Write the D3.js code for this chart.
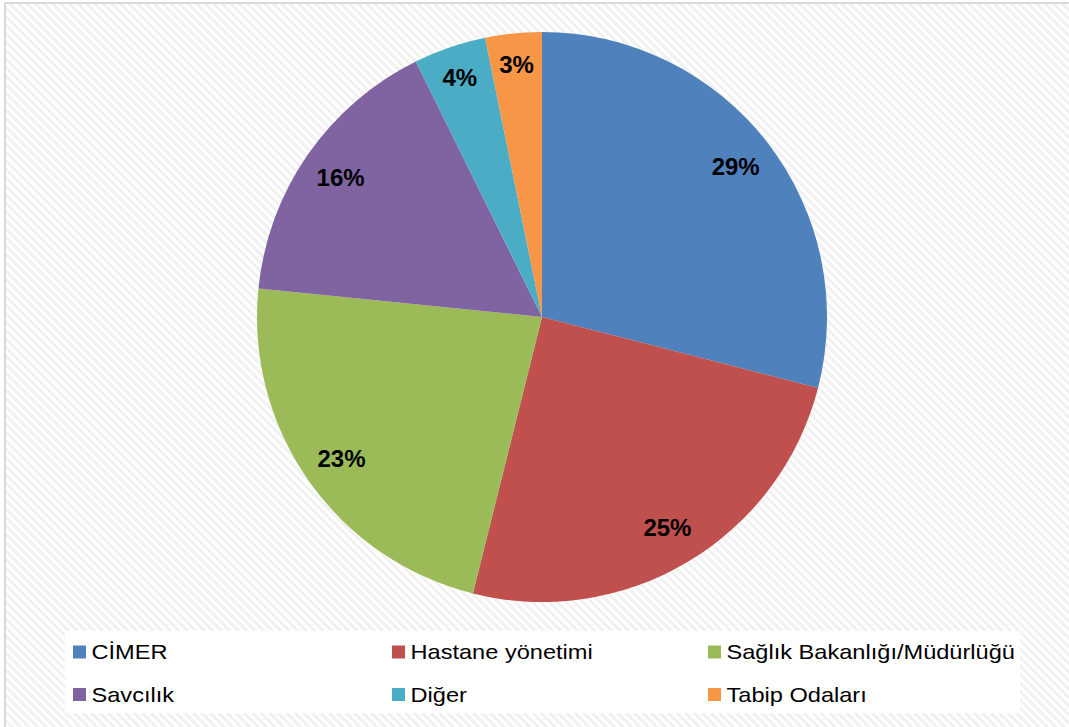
<!DOCTYPE html>
<html><head><meta charset="utf-8">
<script src="https://cdn.jsdelivr.net/npm/d3@7"></script>
<style>html,body{margin:0;padding:0;background:#fff;overflow:hidden}</style>
</head><body>
<script>
const categories = ["CİMER", "Hastane yönetimi", "Sağlık Bakanlığı/Müdürlüğü", "Savcılık", "Diğer", "Tabip Odaları"];
const values = [29.0, 24.9, 22.7, 16.1, 4.1, 3.2];
const labels = ["29%", "25%", "23%", "16%", "4%", "3%"];
const colors = ["#4f81bd", "#c0504d", "#9bbb59", "#8064a2", "#4bacc6", "#f79646"];

const W = 1069, H = 727;
const svg = d3.select("body").append("svg").attr("width", W).attr("height", H);
const defs = svg.append("defs");
const pat = defs.append("pattern").attr("id", "hatch").attr("patternUnits", "userSpaceOnUse")
  .attr("width", 6).attr("height", 6).attr("patternTransform", "rotate(45)");
pat.append("rect").attr("width", 6).attr("height", 6).attr("fill", "#ffffff");
pat.append("rect").attr("width", 6).attr("height", 3).attr("fill", "#f1f1f1");

svg.append("rect").attr("x", 5).attr("y", 3).attr("width", W).attr("height", H)
  .attr("fill", "url(#hatch)").attr("stroke", "#d9d9d9").attr("stroke-width", 2);

const cx = 542, cy = 317, R = 285;
const pie = d3.pie().sort(null).value(d => d.v);
const data = pie(categories.map((c, i) => ({c, v: values[i], l: labels[i], col: colors[i]})));
const arc = d3.arc().innerRadius(0).outerRadius(R);
const lblArc = d3.arc().innerRadius(R * 0.86).outerRadius(R * 0.86);
const lblArcSmall = d3.arc().innerRadius(R * 0.89).outerRadius(R * 0.89);
const g = svg.append("g").attr("transform", `translate(${cx},${cy})`);
g.selectAll("path").data(data).join("path").attr("d", arc).attr("fill", d => d.data.col);
g.selectAll("text").data(data).join("text")
  .attr("transform", d => { const p = (d.data.v < 5 ? lblArcSmall : lblArc).centroid(d); return `translate(${p[0]},${p[1]})`; })
  .attr("text-anchor", "middle").attr("dy", "0.36em")
  .attr("font-family", "Liberation Sans, Arial, sans-serif").attr("font-weight", "bold")
  .attr("font-size", 24).attr("fill", "#000").text(d => d.data.l);

// legend
svg.append("rect").attr("x", 65).attr("y", 631).attr("width", 955).attr("height", 82).attr("fill", "#ffffff");
const colX = [73, 392, 708], rowY = [659, 701.5];
const lg = svg.append("g");
categories.forEach((c, i) => {
  const x = colX[i % 3], y = rowY[Math.floor(i / 3)];
  lg.append("rect").attr("x", x).attr("y", y - 13.5).attr("width", 13).attr("height", 13).attr("fill", colors[i]);
  lg.append("text").attr("transform", `translate(${x + 18.5},${y}) scale(1.18,1)`)
    .attr("font-family", "Liberation Sans, Arial, sans-serif").attr("font-size", 20).attr("fill", "#000").text(c);
});
</script>
</body></html>
